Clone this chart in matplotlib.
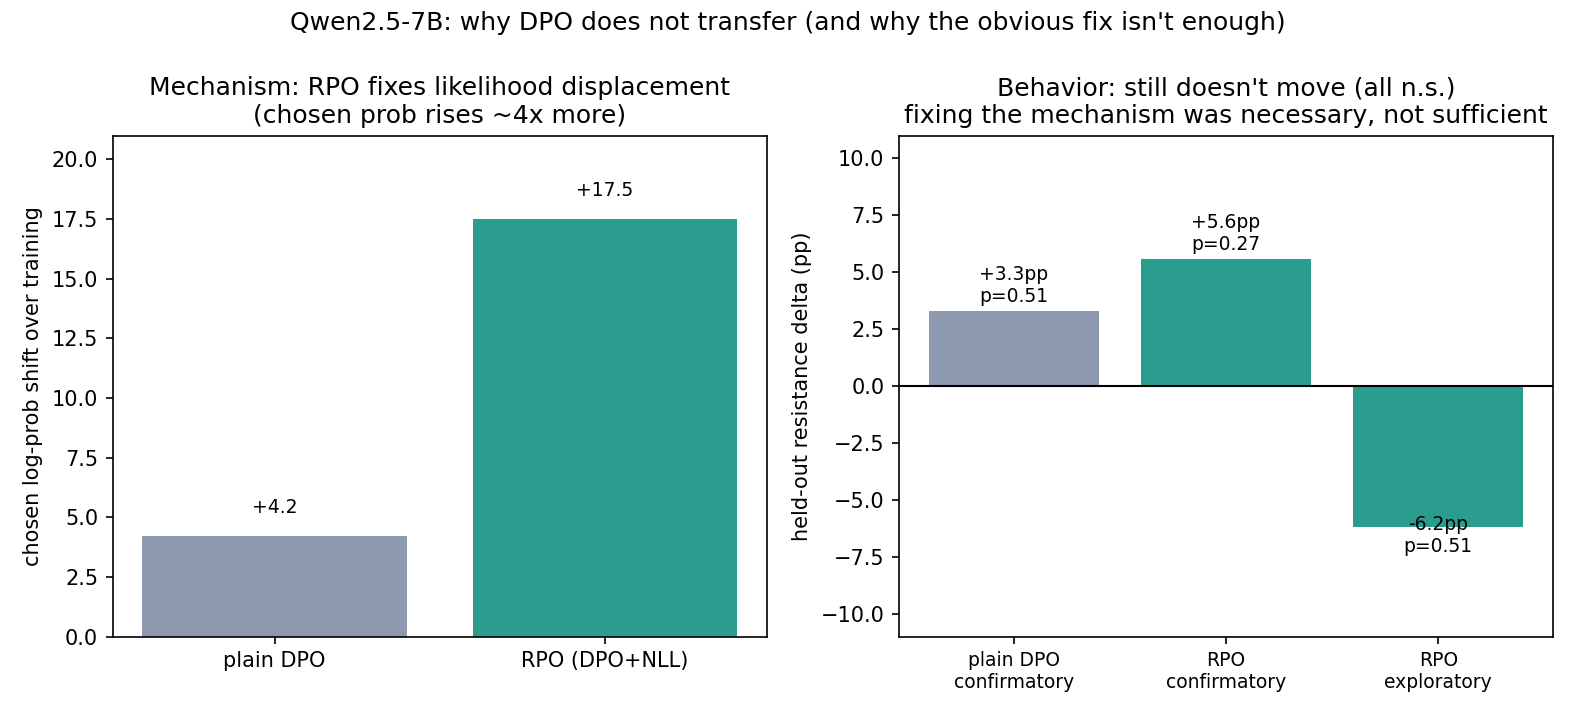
import matplotlib.pyplot as plt

# left panel: mechanism
mech_labels = ['plain DPO', 'RPO (DPO+NLL)']
mech_values = [4.2, 17.5]

# right panel: behavior
beh_labels = ['plain DPO\nconfirmatory', 'RPO\nconfirmatory', 'RPO\nexploratory']
beh_values = [3.3, 5.6, -6.2]
beh_pvals = [0.51, 0.27, 0.51]

GREY = '#8d99ae'
TEAL = '#2a9d8f'

fig, (ax1, ax2) = plt.subplots(1, 2, figsize=(10.5, 4.8), dpi=150)

# Mechanism panel
ax1.bar(mech_labels, mech_values, color=[GREY, TEAL], width=0.8)
for i, v in enumerate(mech_values):
    ax1.text(i, v + 0.8, f'+{v:.1f}', ha='center', va='bottom', fontsize=9)
ax1.set_ylim(0, max(mech_values) * 1.2)
ax1.set_ylabel('chosen log-prob shift over training')
ax1.set_title('Mechanism: RPO fixes likelihood displacement\n(chosen prob rises ~4x more)')

# Behavior panel
ax2.bar(range(len(beh_values)), beh_values, color=[GREY, TEAL, TEAL], width=0.8)
ax2.axhline(0, color='black', lw=1)
for i, (v, p) in enumerate(zip(beh_values, beh_pvals)):
    txt = f'{v:+.1f}pp\np={p:.2f}'
    if v >= 0:
        ax2.text(i, v + 0.2, txt, ha='center', va='bottom', fontsize=9)
    else:
        ax2.text(i, v + 0.55, txt, ha='center', va='top', fontsize=9)
ax2.set_xticks(range(len(beh_labels)))
ax2.set_xticklabels(beh_labels, fontsize=9)
ax2.set_ylim(-11, 11)
ax2.set_ylabel('held-out resistance delta (pp)')
ax2.set_title("Behavior: still doesn't move (all n.s.)\nfixing the mechanism was necessary, not sufficient")

fig.suptitle("Qwen2.5-7B: why DPO does not transfer (and why the obvious fix isn't enough)",
             fontsize=12, y=0.985)
fig.subplots_adjust(left=0.0716, right=0.986, top=0.8118, bottom=0.1157, wspace=0.2023)
fig.savefig('out.png', dpi=150)
